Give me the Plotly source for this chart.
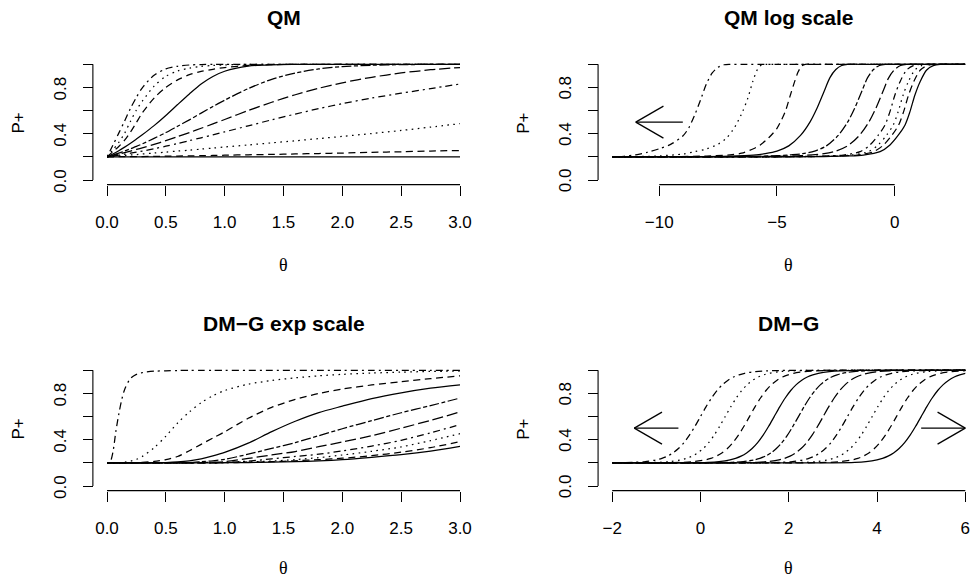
import math
import plotly.graph_objects as go

W, H = 972, 579

# ---------------- data ----------------
# line types (R lty) of the 10 curves, from the steepest / leftmost curve on
LTY = [4, 3, 2, 1, 6, 5, 4, 3, 2, 1]

# Panel "QM": P+ against theta
QM_THETA = [0, 0.05, 0.1, 0.15, 0.2, 0.25, 0.3, 0.4, 0.5, 0.6, 0.7, 0.8, 0.9,
            1.0, 1.2, 1.4, 1.6, 1.8, 2.0, 2.25, 2.5, 2.75, 3.0]
QM_P = [
    [0.2, 0.30, 0.405, 0.51, 0.62, 0.715, 0.797, 0.905, 0.96, 0.983, 0.994, 0.998,
     1.0, 1.0, 1.0, 1.0, 1.0, 1.0, 1.0, 1.0, 1.0, 1.0, 1.0],
    [0.2, 0.26, 0.325, 0.405, 0.508, 0.605, 0.681, 0.811, 0.896, 0.942, 0.967, 0.982,
     0.99, 0.995, 0.999, 1.0, 1.0, 1.0, 1.0, 1.0, 1.0, 1.0, 1.0],
    [0.2, 0.245, 0.29, 0.345, 0.415, 0.497, 0.58, 0.708, 0.80, 0.865, 0.91, 0.938,
     0.957, 0.972, 0.99, 0.997, 1.0, 1.0, 1.0, 1.0, 1.0, 1.0, 1.0],
    [0.2, 0.225, 0.253, 0.284, 0.318, 0.354, 0.391, 0.47, 0.558, 0.652, 0.744, 0.83,
     0.895, 0.94, 0.984, 0.996, 0.999, 1.0, 1.0, 1.0, 1.0, 1.0, 1.0],
    [0.2, 0.215, 0.232, 0.25, 0.27, 0.29, 0.312, 0.36, 0.41, 0.465, 0.52, 0.578,
     0.635, 0.69, 0.79, 0.87, 0.925, 0.96, 0.98, 0.992, 0.997, 0.999, 1.0],
    [0.2, 0.212, 0.224, 0.237, 0.25, 0.264, 0.278, 0.308, 0.34, 0.375, 0.41, 0.447,
     0.485, 0.523, 0.6, 0.672, 0.737, 0.793, 0.84, 0.888, 0.925, 0.953, 0.972],
    [0.2, 0.207, 0.215, 0.223, 0.232, 0.241, 0.25, 0.27, 0.292, 0.315, 0.34, 0.365,
     0.39, 0.416, 0.468, 0.52, 0.57, 0.617, 0.66, 0.708, 0.75, 0.79, 0.83],
    [0.2, 0.204, 0.208, 0.212, 0.216, 0.22, 0.225, 0.233, 0.241, 0.25, 0.258, 0.267,
     0.276, 0.285, 0.303, 0.321, 0.339, 0.358, 0.377, 0.402, 0.428, 0.457, 0.487],
    [0.2, 0.2005, 0.201, 0.2015, 0.202, 0.2025, 0.203, 0.204, 0.206, 0.207, 0.209, 0.21,
     0.212, 0.214, 0.218, 0.221, 0.225, 0.229, 0.233, 0.239, 0.244, 0.25, 0.255],
    [0.2, 0.2, 0.2, 0.2, 0.2, 0.2, 0.2, 0.2, 0.2, 0.2, 0.2, 0.2,
     0.2, 0.2, 0.2, 0.2, 0.2, 0.2, 0.2, 0.2, 0.2, 0.2, 0.2],
]

# Panel "QM log scale": one (theta, P+) list per curve
QMLOG_X = [
    [-12, -11.5, -11, -10.5, -10, -9.5, -9.0, -8.75, -8.5, -8.25, -8.0, -7.75, -7.5, -7.25, -7.0, -6.5, -5, 3],
    [-12, -11, -10, -9, -8.5, -8, -7.5, -7.16, -6.9, -6.74, -6.46, -6.24, -6.03, -5.82, -5.65, -5.4, -5.0, -4, 3],
    [-12, -10, -8, -7, -6.5, -6, -5.71, -5.35, -5.0, -4.65, -4.43, -4.25, -4.1, -3.95, -3.8, -3.5, -2.5, 3],
    [-12, -9, -7, -6, -5.5, -5, -4.5, -4.0, -3.6, -3.3, -3.0, -2.75, -2.5, -2.25, -2.0, -1.5, 3],
    [-12, -8, -6, -5, -4.4, -3.9, -3.4, -2.9, -2.4, -2.0, -1.7, -1.4, -1.15, -0.9, -0.65, -0.4, 0.2, 3],
    [-12, -7, -5, -4, -3.5, -3, -2.5, -2.0, -1.5, -1.1, -0.8, -0.5, -0.25, 0.0, 0.25, 0.5, 1.0, 3],
    [-12, -6, -3.85, -2.85, -2.18, -1.47, -1.05, -0.69, -0.41, -0.2, 0.01, 0.23, 0.51, 0.79, 1.08, 1.45, 2.0, 3],
    [-12, -6, -3.5, -2.5, -1.83, -1.12, -0.7, -0.34, -0.06, 0.15, 0.36, 0.58, 0.86, 1.14, 1.43, 1.8, 2.3, 3],
    [-12, -6, -3.27, -2.27, -1.6, -0.89, -0.47, -0.11, 0.17, 0.38, 0.59, 0.81, 1.09, 1.37, 1.66, 2.0, 2.5, 3],
    [-12, -6, -3, -2, -1.33, -0.62, -0.2, 0.16, 0.44, 0.65, 0.86, 1.08, 1.36, 1.64, 1.93, 2.3, 2.7, 3],
]
QMLOG_P = [
    [0.2, 0.205, 0.218, 0.24, 0.27, 0.31, 0.38, 0.45, 0.56, 0.69, 0.83, 0.925, 0.975, 0.996, 1.0, 1.0, 1.0, 1.0],
    [0.2, 0.202, 0.208, 0.225, 0.245, 0.268, 0.31, 0.36, 0.425, 0.476, 0.591, 0.706, 0.85, 0.96, 0.995, 1.0, 1.0, 1.0, 1.0],
    [0.2, 0.201, 0.207, 0.217, 0.232, 0.27, 0.303, 0.365, 0.447, 0.591, 0.735, 0.85, 0.935, 0.985, 1.0, 1.0, 1.0, 1.0],
    [0.2, 0.201, 0.206, 0.215, 0.228, 0.25, 0.295, 0.385, 0.5, 0.62, 0.765, 0.885, 0.955, 0.99, 1.0, 1.0, 1.0],
    [0.2, 0.201, 0.205, 0.21, 0.218, 0.228, 0.25, 0.295, 0.385, 0.5, 0.62, 0.765, 0.885, 0.955, 0.99, 1.0, 1.0, 1.0],
    [0.2, 0.201, 0.205, 0.21, 0.218, 0.228, 0.25, 0.295, 0.385, 0.5, 0.62, 0.765, 0.885, 0.955, 0.99, 1.0, 1.0, 1.0],
    [0.2, 0.2, 0.203, 0.208, 0.216, 0.245, 0.303, 0.389, 0.476, 0.591, 0.735, 0.85, 0.951, 0.988, 0.999, 1.0, 1.0, 1.0],
    [0.2, 0.2, 0.203, 0.208, 0.216, 0.245, 0.303, 0.389, 0.476, 0.591, 0.735, 0.85, 0.951, 0.988, 0.999, 1.0, 1.0, 1.0],
    [0.2, 0.2, 0.203, 0.208, 0.216, 0.245, 0.303, 0.389, 0.476, 0.591, 0.735, 0.85, 0.951, 0.988, 0.999, 1.0, 1.0, 1.0],
    [0.2, 0.2, 0.203, 0.208, 0.216, 0.245, 0.303, 0.389, 0.476, 0.591, 0.735, 0.85, 0.951, 0.988, 0.999, 1.0, 1.0, 1.0],
]

# Panel "DM-G exp scale"
DMGEXP_THETA = [0, 0.025, 0.05, 0.075, 0.1, 0.125, 0.15, 0.2, 0.25, 0.3, 0.4, 0.5, 0.6,
                0.7, 0.8, 0.9, 1.0, 1.2, 1.4, 1.6, 1.8, 2.0, 2.25, 2.5, 2.75, 3.0]
DMGEXP_P = [
    [0.2, 0.205, 0.29, 0.47, 0.62, 0.745, 0.835, 0.93, 0.965, 0.98, 0.992, 0.996, 0.998,
     0.999, 1.0, 1.0, 1.0, 1.0, 1.0, 1.0, 1.0, 1.0, 1.0, 1.0, 1.0, 1.0],
    [0.2, 0.2, 0.2, 0.201, 0.202, 0.204, 0.207, 0.215, 0.23, 0.255, 0.33, 0.43, 0.545,
     0.64, 0.72, 0.78, 0.825, 0.88, 0.912, 0.935, 0.952, 0.965, 0.976, 0.984, 0.99, 0.994],
    [0.2, 0.2, 0.2, 0.2, 0.2, 0.2, 0.2, 0.201, 0.202, 0.204, 0.212, 0.228, 0.255,
     0.305, 0.36, 0.415, 0.468, 0.585, 0.68, 0.748, 0.8, 0.838, 0.873, 0.902, 0.928, 0.952],
    [0.2, 0.2, 0.2, 0.2, 0.2, 0.2, 0.2, 0.2, 0.2, 0.2, 0.201, 0.203, 0.208,
     0.218, 0.235, 0.26, 0.29, 0.37, 0.47, 0.56, 0.635, 0.69, 0.755, 0.805, 0.845, 0.875],
    [0.2, 0.2, 0.2, 0.2, 0.2, 0.2, 0.2, 0.2, 0.2, 0.2, 0.2, 0.2, 0.201,
     0.203, 0.21, 0.218, 0.23, 0.275, 0.325, 0.375, 0.435, 0.495, 0.565, 0.633, 0.695, 0.76],
    [0.2, 0.2, 0.2, 0.2, 0.2, 0.2, 0.2, 0.2, 0.2, 0.2, 0.2, 0.2, 0.2,
     0.2, 0.202, 0.205, 0.21, 0.238, 0.268, 0.298, 0.34, 0.38, 0.435, 0.5, 0.567, 0.64],
    [0.2, 0.2, 0.2, 0.2, 0.2, 0.2, 0.2, 0.2, 0.2, 0.2, 0.2, 0.2, 0.2,
     0.2, 0.2, 0.2, 0.203, 0.215, 0.235, 0.255, 0.275, 0.303, 0.345, 0.395, 0.46, 0.53],
    [0.2, 0.2, 0.2, 0.2, 0.2, 0.2, 0.2, 0.2, 0.2, 0.2, 0.2, 0.2, 0.2,
     0.2, 0.2, 0.2, 0.202, 0.208, 0.215, 0.228, 0.245, 0.268, 0.3, 0.338, 0.392, 0.452],
    [0.2, 0.2, 0.2, 0.2, 0.2, 0.2, 0.2, 0.2, 0.2, 0.2, 0.2, 0.2, 0.2,
     0.2, 0.2, 0.2, 0.201, 0.205, 0.21, 0.218, 0.228, 0.24, 0.262, 0.292, 0.332, 0.383],
    [0.2, 0.2, 0.2, 0.2, 0.2, 0.2, 0.2, 0.2, 0.2, 0.2, 0.2, 0.2, 0.2,
     0.2, 0.2, 0.2, 0.201, 0.203, 0.206, 0.21, 0.217, 0.228, 0.248, 0.271, 0.302, 0.343],
]

# Panel "DM-G": every curve has the same S shape, shifted to its own midpoint
DMG_MID = [0.0, 0.56, 1.11, 1.67, 2.22, 2.78, 3.33, 3.89, 4.44, 5.0]
DMG_OFFSET = [-8.0, -2.0, -1.5, -1.25, -1.0, -0.875, -0.75, -0.625, -0.5, -0.375, -0.25, -0.125,
              0.0, 0.125, 0.25, 0.375, 0.5, 0.625, 0.75, 0.875, 1.0, 1.25, 1.5, 2.0, 8.0]
DMG_SHAPE = [0.2, 0.2009, 0.2048, 0.2113, 0.2258, 0.2389, 0.2579, 0.2854, 0.3236, 0.3747, 0.4395, 0.5162,
             0.6, 0.6838, 0.7605, 0.8253, 0.8764, 0.9146, 0.9421, 0.9611, 0.9742, 0.9887, 0.9952, 0.9991, 1.0]

# arrows (tail x, tail y, tip x, tip y) in data units
QMLOG_ARROWS = [(-9.0, 0.5, -11.0, 0.5)]
DMG_ARROWS = [(-0.5, 0.5, -1.5, 0.5), (5.0, 0.5, 6.0, 0.5)]

TITLES = ["QM", "QM log scale", "DM\u2212G exp scale", "DM\u2212G"]
Y_TICKS = [0, 0.2, 0.4, 0.6, 0.8, 1.0]
Y_TICKTEXT = ["0.0", "", "0.4", "", "0.8", ""]
X_TICKS = [[0, 0.5, 1.0, 1.5, 2.0, 2.5, 3.0], [-10, -5, 0], [0, 0.5, 1.0, 1.5, 2.0, 2.5, 3.0], [-2, 0, 2, 4, 6]]
X_TICKTEXT = [["0.0", "0.5", "1.0", "1.5", "2.0", "2.5", "3.0"], ["\u221210", "\u22125", "0"],
              ["0.0", "0.5", "1.0", "1.5", "2.0", "2.5", "3.0"], ["\u22122", "0", "2", "4", "6"]]
X_RANGES = [(0, 3), (-12, 3), (0, 3), (-2, 6)]

# ---------------- style / layout ----------------
SANS = "Liberation Sans, Arial, Helvetica, sans-serif"
SERIF = "Liberation Serif, DejaVu Serif, serif"
DASH = {1: "solid", 2: "7px,4.5px", 3: "1.6px,4.4px", 4: "2px,4px,7px,4px",
        5: "11px,4px", 6: "4px,2.5px,10px,2.5px"}
LW = 1.25

# pixel geometry of each panel: x-data span (px), y of P=0 and P=1 (px)
GEOM = [
    dict(x0=107.0, x1=460.0, p0=180.0, p1=64.3),
    dict(x0=612.2, x1=965.3, p0=180.0, p1=64.3),
    dict(x0=107.0, x1=460.0, p0=486.0, p1=370.3),
    dict(x0=612.2, x1=965.3, p0=486.0, p1=370.3),
]
PAD = 0.04

fig = go.Figure()


def ax_names(i):
    s = "" if i == 0 else str(i + 1)
    return "x" + s, "y" + s, "xaxis" + s, "yaxis" + s


def px_of(i, xv, yv):
    g = GEOM[i]
    r0, r1 = X_RANGES[i]
    px = g["x0"] + (xv - r0) / (r1 - r0) * (g["x1"] - g["x0"])
    py = g["p0"] + yv * (g["p1"] - g["p0"])
    return px, py


def add_curves(i, xs_list, ys_list):
    xa, ya, _, _ = ax_names(i)
    for k in range(10):
        fig.add_trace(go.Scatter(
            x=xs_list[k], y=ys_list[k], mode="lines", xaxis=xa, yaxis=ya,
            line=dict(color="black", width=LW, dash=DASH[LTY[k]], shape="spline", smoothing=0.8),
            showlegend=False, hoverinfo="skip"))


add_curves(0, [QM_THETA] * 10, QM_P)
add_curves(1, QMLOG_X, QMLOG_P)
add_curves(2, [DMGEXP_THETA] * 10, DMGEXP_P)
add_curves(3, [[m + o for o in DMG_OFFSET] for m in DMG_MID], [DMG_SHAPE] * 10)

shapes = []
annotations = []


def pline(xa_, ya_, xb_, yb_, w=LW):
    shapes.append(dict(type="line", xref="paper", yref="paper",
                       x0=xa_ / W, y0=1 - ya_ / H, x1=xb_ / W, y1=1 - yb_ / H,
                       line=dict(color="black", width=w)))


def ptext(text, x, y, size=17, family=SANS, angle=0, bold=False):
    font = dict(family=family, size=size, color="black")
    if bold:
        font["weight"] = "bold"
    annotations.append(dict(text=text, x=x / W, y=1 - y / H, xref="paper", yref="paper",
                            showarrow=False, xanchor="center", yanchor="middle", borderpad=0,
                            textangle=angle, font=font))


layout_axes = {}
for i in range(4):
    g = GEOM[i]
    xa, ya, xk, yk = ax_names(i)
    span = g["p0"] - g["p1"]
    ybot = g["p0"] + PAD * span
    ytop = g["p1"] - PAD * span
    xleft = g["x0"] - PAD * (g["x1"] - g["x0"])
    layout_axes[xk] = dict(
        domain=[g["x0"] / W, g["x1"] / W], range=list(X_RANGES[i]), anchor=ya,
        tickmode="array", tickvals=X_TICKS[i], ticktext=X_TICKTEXT[i],
        ticks="outside", ticklen=10, tickwidth=1.1, tickcolor="black",
        showline=False, showgrid=False, zeroline=False, fixedrange=True, automargin=False,
        tickfont=dict(family=SANS, size=17, color="black"), ticklabelstandoff=12)
    layout_axes[yk] = dict(
        domain=[1 - ybot / H, 1 - ytop / H], range=[-PAD, 1 + PAD], anchor="free",
        position=xleft / W, tickmode="array", tickvals=Y_TICKS,
        ticks="outside", ticklen=10, tickwidth=1.1, tickcolor="black", showticklabels=False,
        showline=False, showgrid=False, zeroline=False, fixedrange=True, automargin=False)
    # axis lines spanning first..last tick, as R draws them
    ax0, _ = px_of(i, X_TICKS[i][0], 0)
    ax1, _ = px_of(i, X_TICKS[i][-1], 0)
    pline(ax0, ybot, ax1, ybot, 1.1)
    _, yy0 = px_of(i, 0, Y_TICKS[0])
    _, yy1 = px_of(i, 0, Y_TICKS[-1])
    pline(xleft, yy0, xleft, yy1, 1.1)
    # rotated y tick labels (R style, parallel to the axis)
    for v, t in zip(Y_TICKS, Y_TICKTEXT):
        if t:
            _, py = px_of(i, 0, v)
            ptext(t, xleft - 32.4, py + 0.5, angle=-90)
    # titles and axis labels
    cx = (xleft + g["x1"] + PAD * (g["x1"] - g["x0"])) / 2
    cy = (ybot + ytop) / 2
    ptext(TITLES[i], cx, ytop - 42.5, size=21, bold=True)
    ptext("\u03b8", cx, min(ybot + 80.5, H - 11.5), size=18, family=SERIF)
    ptext("P+", xleft - 74.3, cy + 0.8, angle=-90)


def add_arrow(i, tx, ty, hx, hy, head=32.0, ang=30.0):
    p_t = px_of(i, tx, ty)
    p_h = px_of(i, hx, hy)
    pline(p_t[0], p_t[1], p_h[0], p_h[1])
    dx, dy = p_t[0] - p_h[0], p_t[1] - p_h[1]
    n = math.hypot(dx, dy)
    ux, uy = dx / n, dy / n
    for s in (1, -1):
        a = math.radians(ang) * s
        rx = ux * math.cos(a) - uy * math.sin(a)
        ry = ux * math.sin(a) + uy * math.cos(a)
        pline(p_h[0], p_h[1], p_h[0] + head * rx, p_h[1] + head * ry)


for a in QMLOG_ARROWS:
    add_arrow(1, *a)
for a in DMG_ARROWS:
    add_arrow(3, *a)

fig.update_layout(
    width=W, height=H, autosize=False,
    margin=dict(l=0, r=0, t=0, b=0, pad=0, autoexpand=False),
    paper_bgcolor="white", plot_bgcolor="white",
    showlegend=False, shapes=shapes, annotations=annotations,
    **layout_axes)

fig.write_html("out.html", config={"displayModeBar": False, "responsive": False},
               post_script="document.body.style.margin='0px';")
